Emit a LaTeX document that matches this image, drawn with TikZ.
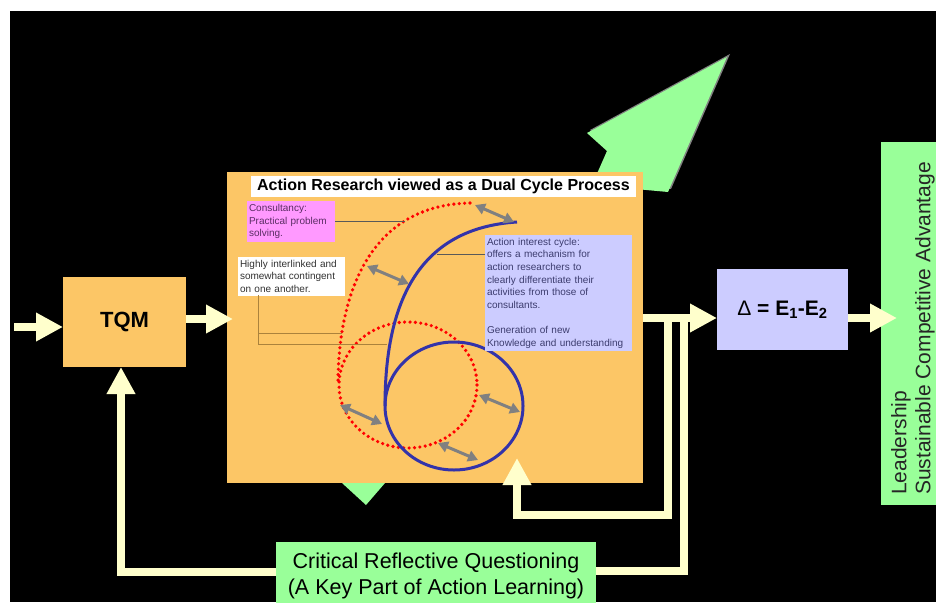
\documentclass[tikz,border=0pt]{standalone}
\usepackage{fontspec}
\setmainfont{Liberation Sans}
\usetikzlibrary{arrows.meta}
\definecolor{bgorange}{RGB}{252,198,102}
\definecolor{lav}{RGB}{204,204,255}
\definecolor{cream}{RGB}{255,255,204}
\definecolor{lgreen}{RGB}{153,255,153}
\definecolor{pinkbox}{RGB}{255,153,255}
\definecolor{cblue}{RGB}{51,51,170}
\definecolor{linkbrown}{RGB}{170,130,60}
\definecolor{darrow}{RGB}{128,128,128}
\definecolor{acttext}{RGB}{60,60,110}
\definecolor{constext}{RGB}{90,45,100}
\definecolor{hightext}{RGB}{50,50,50}
\tikzset{
  plainbox/.style={inner sep=0pt, outer sep=0pt},
  notebox/.style={anchor=north west, align=left, inner xsep=2pt, inner ysep=3pt, outer sep=0pt,
     font=\fontsize{10}{12.6}\selectfont},
  creamline/.style={draw=cream, line width=8pt, line join=miter},
  creamarrow/.style={creamline, -{Triangle[length=27pt,width=27pt]}},
  grayarrow/.style={draw=darrow, line width=3pt,
     {Triangle[length=10pt,width=11pt]}-{Triangle[length=10pt,width=11pt]}},
  reddots/.style={draw=red, line width=3.6pt, line cap=round, dash pattern=on 0pt off 5.4pt},
  bluecurve/.style={draw=cblue, line width=3pt},
  thinlink/.style={draw=black!65, line width=0.8pt},
  brownlink/.style={draw=linkbrown, line width=1pt},
}
\begin{document}
\begin{tikzpicture}[x=1pt,y=-1pt]
\useasboundingbox (0,0) rectangle (936,602);
\fill[white] (0,0) rectangle (936,602);
\fill[black] (10,11) rectangle (936,602);

% big green arrow behind the main box
\fill[darrow, shift={(3,-3)}] (727,57) -- (587,133) -- (607,151) -- (592,185) -- (668,192) -- cycle;
\fill[lgreen] (727,57) -- (587,133) -- (607,151) -- (592,185) -- (668,192) -- cycle;

% main orange panel
\node[plainbox, fill=bgorange, minimum width=416, minimum height=311] (main) at (435,327.5) {};
% small green triangle under the panel
\fill[lgreen] (342,483) -- (385,483) -- (366,505) -- cycle;

% red dotted "6"
\draw[reddots] (470,203) .. controls (372,205) and (338,290) .. (338,385);
\draw[reddots] (408,385) ellipse [x radius=69, y radius=63];
% blue solid "6"
\draw[bluecurve] (517,222) .. controls (420,228) and (385,300) .. (385,406);
\draw[bluecurve] (454,406) ellipse [x radius=69, y radius=64];

% gray double arrows
\coordinate (g1a) at (475,205); \coordinate (g1b) at (514,222);
\coordinate (g2a) at (367,266); \coordinate (g2b) at (409,284);
\coordinate (g3a) at (340,405); \coordinate (g3b) at (382,424);
\coordinate (g4a) at (479,395); \coordinate (g4b) at (520,412);
\coordinate (g5a) at (438,443); \coordinate (g5b) at (478,460);
\draw[grayarrow] (g1a) -- (g1b);
\draw[grayarrow] (g2a) -- (g2b);
\draw[grayarrow] (g3a) -- (g3b);
\draw[grayarrow] (g4a) -- (g4b);
\draw[grayarrow] (g5a) -- (g5b);

% title and notes
\node[plainbox, fill=white, minimum width=385, minimum height=21,
      font=\fontsize{16}{18}\selectfont\bfseries] (title) at (443.5,186.5)
      {Action Research viewed as a Dual Cycle Process};
\node[notebox, fill=pinkbox, minimum width=88, minimum height=41, text width=84,
      text=constext] (cons) at (247,201) {Consultancy:\\Practical problem\\solving.};
\node[notebox, fill=white, minimum width=107, minimum height=38, text width=103,
      text=hightext] (high) at (238,257) {Highly interlinked and\\somewhat contingent\\on one another.};
\node[notebox, fill=lav, minimum width=147, minimum height=116, text width=143,
      text=acttext] (act) at (485,235)
      {Action interest cycle:\\offers a mechanism for\\action researchers to\\clearly differentiate their\\activities from those of\\consultants.\\\mbox{}\\Generation of new\\Knowledge and understanding};

% thin connectors from notes to the curves
\coordinate (consEnd) at (405,221.5);
\draw[thinlink] (cons.east) -- (consEnd);
\coordinate (actEnd) at (437,254);
\draw[thinlink] (act.west |- actEnd) -- (actEnd);
\coordinate (hlA) at (258,295);
\coordinate (hl1) at (342,333);
\coordinate (hl2) at (387,344);
\draw[brownlink] (hlA) |- (hl2);
\draw[brownlink] (hlA |- hl1) -- (hl1);

% TQM, delta, green bar
\node[plainbox, fill=bgorange, minimum width=123, minimum height=90,
      font=\fontsize{22}{26}\selectfont\bfseries] (tqm) at (124.5,322) {TQM};
\node[plainbox, fill=lav, minimum width=131, minimum height=81,
      font=\fontsize{21}{24}\selectfont\bfseries] (delta) at (782.5,309.5)
      {{\mdseries Δ} = E\textsubscript{1}-E\textsubscript{2}};
\node[plainbox, fill=lgreen, minimum width=60, minimum height=363, anchor=north west] (lead) at (881,142) {};

% critical reflective questioning box
\node[plainbox, fill=lgreen, minimum width=320, minimum height=68, align=center,
      font=\fontsize{21.5}{26}\selectfont] (crit) at (436,576)
      {Critical Reflective Questioning\\(A Key Part of Action Learning)};

% cream arrows
\coordinate (inL) at (14,327);
\draw[creamarrow] (inL) -- (inL -| tqm.west);
\coordinate (tq1) at (233,319);
\draw[creamarrow] (tqm.east |- tq1) -- (tq1);
\coordinate (fbO) at (684,318);
\coordinate (fbB) at (684,571);
\draw[creamline] (crit.east |- fbB) -- (fbB) -- (fbO);
\coordinate (fiT) at (668,318);
\coordinate (fiB) at (668,515);
\coordinate (upTip) at (517,458);
\draw[creamarrow] (fiT) -- (fiB) -- (upTip |- fiB) -- (upTip);
\coordinate (dIn) at (717,318);
\draw[creamarrow] (main.east |- dIn) -- (dIn);
\coordinate (gIn) at (897,318);
\draw[creamarrow] (delta.east |- gIn) -- (gIn);
\coordinate (lfB) at (121,572);
\draw[creamarrow] (crit.west |- lfB) -- (lfB) -- (tqm.south -| lfB);

% rotated text on the green bar
\node[inner sep=0pt, rotate=90, anchor=south west, align=left,
      font=\fontsize{21}{24}\selectfont, text=black!85] (leadtext) at (935,495)
      {Leadership\\Sustainable Competitive Advantage};
\end{tikzpicture}
\end{document}
